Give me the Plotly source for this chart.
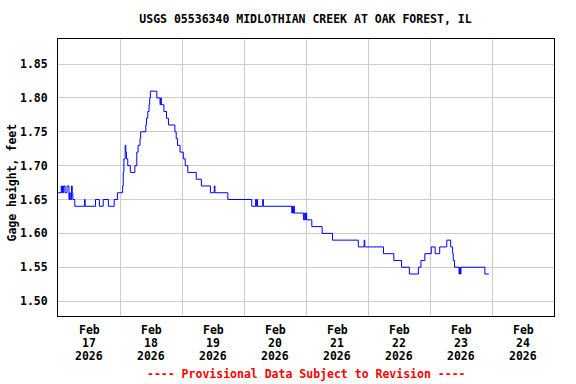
import plotly.graph_objects as go

# Gage height readings (step data)
times = [
    "2026-02-17 00:00", "2026-02-17 01:15", "2026-02-17 01:30", "2026-02-17 01:45",
    "2026-02-17 02:00", "2026-02-17 02:15", "2026-02-17 02:45", "2026-02-17 03:30",
    "2026-02-17 04:15", "2026-02-17 04:30", "2026-02-17 04:45", "2026-02-17 05:15",
    "2026-02-17 05:30", "2026-02-17 05:45", "2026-02-17 06:30", "2026-02-17 10:15",
    "2026-02-17 10:30", "2026-02-17 14:30", "2026-02-17 16:00", "2026-02-17 17:30",
    "2026-02-17 19:30", "2026-02-17 21:45", "2026-02-17 23:00",
    "2026-02-18 01:00", "2026-02-18 01:15", "2026-02-18 01:30", "2026-02-18 02:00",
    "2026-02-18 02:15", "2026-02-18 02:30", "2026-02-18 03:00", "2026-02-18 04:00",
    "2026-02-18 05:45", "2026-02-18 06:30", "2026-02-18 07:00", "2026-02-18 07:45",
    "2026-02-18 08:00", "2026-02-18 10:00", "2026-02-18 10:15", "2026-02-18 10:45",
    "2026-02-18 11:15", "2026-02-18 11:30", "2026-02-18 11:45", "2026-02-18 14:15",
    "2026-02-18 15:30", "2026-02-18 15:45", "2026-02-18 16:00", "2026-02-18 17:00",
    "2026-02-18 18:00", "2026-02-18 18:45", "2026-02-18 21:15", "2026-02-18 21:45",
    "2026-02-18 22:15", "2026-02-18 23:15",
    "2026-02-19 00:30", "2026-02-19 01:15", "2026-02-19 02:15", "2026-02-19 05:30",
    "2026-02-19 07:30", "2026-02-19 11:00", "2026-02-19 12:30", "2026-02-19 12:45",
    "2026-02-19 17:45",
    "2026-02-20 03:00", "2026-02-20 04:30", "2026-02-20 04:45", "2026-02-20 05:00",
    "2026-02-20 05:15", "2026-02-20 07:15", "2026-02-20 07:30", "2026-02-20 18:30",
    "2026-02-20 18:45", "2026-02-20 19:00", "2026-02-20 19:15", "2026-02-20 19:30",
    "2026-02-20 23:00", "2026-02-20 23:30", "2026-02-20 23:45",
    "2026-02-21 00:00", "2026-02-21 00:15", "2026-02-21 02:15", "2026-02-21 06:15",
    "2026-02-21 10:15", "2026-02-21 20:15", "2026-02-21 22:30", "2026-02-21 22:45",
    "2026-02-22 06:00", "2026-02-22 10:00", "2026-02-22 13:00", "2026-02-22 16:00",
    "2026-02-22 19:30", "2026-02-22 20:30", "2026-02-22 22:00",
    "2026-02-23 00:30", "2026-02-23 02:00", "2026-02-23 03:45", "2026-02-23 06:30",
    "2026-02-23 08:00", "2026-02-23 08:45", "2026-02-23 09:00", "2026-02-23 09:30",
    "2026-02-23 11:15", "2026-02-23 11:30", "2026-02-23 11:45", "2026-02-23 12:00",
    "2026-02-23 21:15", "2026-02-23 22:45",
]
gage_height = [
    1.66, 1.67, 1.66, 1.67,
    1.66, 1.67, 1.66, 1.67,
    1.65, 1.66, 1.65, 1.67,
    1.66, 1.65, 1.64, 1.65,
    1.64, 1.65, 1.64, 1.65,
    1.64, 1.65, 1.66,
    1.67, 1.69, 1.71, 1.73,
    1.72, 1.71, 1.70, 1.69,
    1.70, 1.72, 1.73, 1.74,
    1.75, 1.76, 1.77, 1.78,
    1.79, 1.80, 1.81, 1.80,
    1.79, 1.80, 1.79, 1.78,
    1.77, 1.76, 1.75, 1.74,
    1.73, 1.72,
    1.71, 1.70, 1.69, 1.68,
    1.67, 1.66, 1.67, 1.66,
    1.65,
    1.64, 1.65, 1.64, 1.65,
    1.64, 1.65, 1.64, 1.63,
    1.64, 1.63, 1.64, 1.63,
    1.62, 1.63, 1.62,
    1.63, 1.62, 1.61, 1.60,
    1.59, 1.58, 1.59, 1.58,
    1.57, 1.56, 1.55, 1.54,
    1.55, 1.56, 1.57,
    1.58, 1.57, 1.58, 1.59,
    1.58, 1.57, 1.56, 1.55,
    1.54, 1.55, 1.54, 1.55,
    1.54, 1.54,
]

y_ticks = [1.50, 1.55, 1.60, 1.65, 1.70, 1.75, 1.80, 1.85]
day_noons = ["2026-02-17 12:00", "2026-02-18 12:00", "2026-02-19 12:00", "2026-02-20 12:00",
             "2026-02-21 12:00", "2026-02-22 12:00", "2026-02-23 12:00", "2026-02-24 12:00"]
day_months = ["Feb"] * 8
day_numbers = ["17", "18", "19", "20", "21", "22", "23", "24"]
day_years = ["2026"] * 8
day_starts = ["2026-02-18", "2026-02-19", "2026-02-20", "2026-02-21",
              "2026-02-22", "2026-02-23", "2026-02-24"]

FONT = "DejaVu Sans Mono"
SIZE = 11.5

fig = go.Figure()
fig.add_trace(go.Scatter(
    x=times, y=gage_height, mode="lines", line=dict(color="#0000ff", width=1, shape="hv"),
    hoverinfo="skip", showlegend=False))

fig.update_layout(
    width=576, height=384,
    margin=dict(l=58, r=22, t=39, b=68, autoexpand=False),
    paper_bgcolor="white", plot_bgcolor="white",
    font=dict(family=FONT, size=SIZE, color="black", weight="bold"),
    title=dict(text="USGS 05536340 MIDLOTHIAN CREEK AT OAK FOREST, IL",
               x=0.5304, xanchor="center", y=0.9505, yanchor="middle",
               font=dict(family=FONT, size=SIZE, color="black", weight="bold")),
    xaxis=dict(
        range=["2026-02-17 00:00", "2026-02-25 00:00"],
        tickmode="array", tickvals=day_starts, showticklabels=False,
        ticks="", showgrid=True, gridcolor="#cccccc", gridwidth=1,
        zeroline=False, automargin=False,
        showline=True, linecolor="black", linewidth=1, mirror=True,
    ),
    yaxis=dict(
        range=[1.478, 1.887],
        tickmode="array", tickvals=y_ticks, ticktext=[f"{v:.2f}" for v in y_ticks],
        ticks="", showgrid=True, gridcolor="#cccccc", gridwidth=1, zeroline=False,
        showline=True, linecolor="black", linewidth=1, mirror=True, automargin=False,
        ticklabelstandoff=7,
        tickfont=dict(family=FONT, size=SIZE, color="black", weight="bold"),
    ),
)

# Y-axis title
fig.add_annotation(
    text="Gage height, feet", textangle=-90,
    xref="paper", yref="paper", x=0, xshift=-45.5, y=0.48,
    xanchor="center", yanchor="middle", showarrow=False,
    font=dict(family=FONT, size=SIZE, color="black", weight="bold"))

# Three-line date labels under each day
for rows, shift in ((day_months, -14), (day_numbers, -27), (day_years, -40)):
    for xv, txt in zip(day_noons, rows):
        fig.add_annotation(
            text=txt, x=xv, xref="x", y=0, yref="paper", yshift=shift,
            xanchor="center", yanchor="middle", showarrow=False,
            font=dict(family=FONT, size=SIZE, color="black", weight="bold"))

fig.add_annotation(
    text="---- Provisional Data Subject to Revision ----",
    xref="paper", yref="paper", x=0.5, y=-0.2094, xanchor="center", yanchor="middle",
    showarrow=False, font=dict(family=FONT, size=SIZE, color="red", weight="bold"))

fig.write_html("out.html", config={"displayModeBar": False},
               post_script="document.body.style.margin='0';")
